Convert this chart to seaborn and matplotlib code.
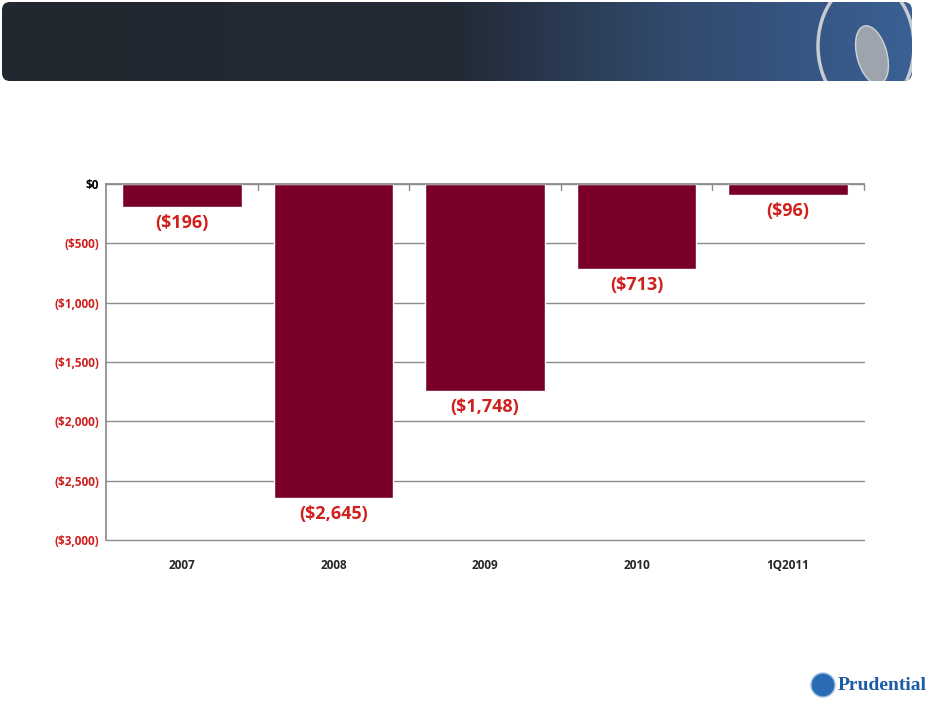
import seaborn as sns
import matplotlib.pyplot as plt
import numpy as np
from matplotlib.patches import FancyBboxPatch, Circle, Ellipse
from matplotlib.colors import LinearSegmentedColormap
from matplotlib.ticker import FuncFormatter

sns.set_theme(style="white")
plt.rcParams['font.family'] = ['Open Sans', 'DejaVu Sans']

years = ["2007", "2008", "2009", "2010", "1Q2011"]
values = [-196, -2645, -1748, -713, -96]
value_labels = ["($196)", "($2,645)", "($1,748)", "($713)", "($96)"]
y_ticks = [0, -500, -1000, -1500, -2000, -2500, -3000]

bar_color = "#7A0029"
label_red = "#D0201E"

fig = plt.figure(figsize=(9.32, 7.03), dpi=100)

# header banner
hax = fig.add_axes([0, 0, 1, 1], zorder=0)
hax.set_xlim(0, 932)
hax.set_ylim(703, 0)
hax.axis("off")
cmap = LinearSegmentedColormap.from_list(
    "hdr", [(0, "#23282f"), (0.5, "#222a36"), (0.72, "#31486a"), (1, "#3a6094")])
grad = np.linspace(0, 1, 400).reshape(1, -1)
im = hax.imshow(grad, cmap=cmap, extent=[2, 912, 81, 2], aspect="auto")
box = FancyBboxPatch((2, 2), 910, 79, boxstyle="round,pad=0,rounding_size=8",
                     transform=hax.transData, facecolor="none", edgecolor="none")
hax.add_patch(box)
im.set_clip_path(box)
hax.add_patch(Ellipse((866, 46), 96, 130, facecolor="none", edgecolor="#c8ccd2",
                      linewidth=2.5, clip_path=box))
hax.add_patch(Ellipse((872, 55), 30, 60, angle=-15, facecolor="#9ea4ad",
                      edgecolor="#d0d3d8", linewidth=1, clip_path=box))

# bottom-right logo
hax.add_patch(Circle((823, 685), 12, facecolor="#2a6cb3", edgecolor="#9cc0e6",
                     linewidth=1))
hax.text(838, 686, "Prudential", color="#1d5ca6", fontsize=14, fontweight="bold",
         family=["Liberation Serif", "DejaVu Serif"], va="center", ha="left")

ax = fig.add_axes([106 / 932, 1 - 540 / 703, 758 / 932, 356 / 703], zorder=1)
sns.barplot(x=years, y=values, color=bar_color, saturation=1, width=0.79, ax=ax)
ax.set_ylim(-3000, 0)
ax.set_xlim(-0.5, len(years) - 0.5)
ax.set_yticks(y_ticks)
ax.yaxis.set_major_formatter(FuncFormatter(
    lambda v, p: "$0" if v == 0 else f"(${abs(v):,.0f})"))
for t, v in zip(ax.get_yticklabels(), ax.get_yticks()):
    t.set_color("black" if v == 0 else label_red)
    t.set_fontweight("bold")
    t.set_fontsize(8.5)
for t in ax.get_xticklabels():
    t.set_fontweight("bold")
    t.set_fontsize(8.5)
ax.tick_params(axis="x", length=0, pad=14)
ax.tick_params(axis="y", length=0, pad=5)

ax.grid(axis="y", color="#8c8c8c", linewidth=1)
for line in ax.get_ygridlines():
    line.set_clip_on(False)
ax.set_axisbelow(True)
for s in ["right", "bottom"]:
    ax.spines[s].set_visible(False)
ax.spines["left"].set_color("#8c8c8c")
ax.spines["top"].set_color("#8c8c8c")
# small ticks on the zero line between categories
for b in np.arange(0.5, len(years) - 0.5, 1.0).tolist() + [len(years) - 0.5]:
    ax.plot([b, b], [0, -50], color="#8c8c8c", linewidth=1, clip_on=False)

ax.bar_label(ax.containers[0], labels=value_labels, padding=5, color=label_red,
             fontsize=13, fontweight="bold")
ax.set_xlabel("")
ax.set_ylabel("")

fig.savefig("out.png", dpi=100)
